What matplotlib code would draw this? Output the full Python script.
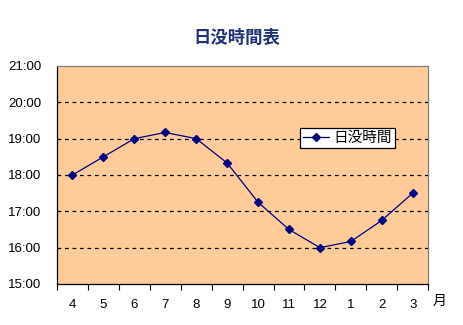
import matplotlib.pyplot as plt
import numpy as np

plt.rcParams['font.family'] = ['Liberation Sans', 'Noto Sans CJK JP', 'DejaVu Sans']

months = ['4', '5', '6', '7', '8', '9', '10', '11', '12', '1', '2', '3']
sunset = [18.0, 18.5, 19.0, 19.17, 19.0, 18.33, 17.25, 16.5, 16.0, 16.17, 16.75, 17.5]
y_ticks = [15, 16, 17, 18, 19, 20, 21]
y_labels = ['15:00', '16:00', '17:00', '18:00', '19:00', '20:00', '21:00']
series_name = '日没時間'
title = '日没時間表'

fig = plt.figure(figsize=(4.64, 3.25), dpi=100)
ax = fig.add_axes([0.1228, 0.1262, 0.8, 0.6708])
ax.set_facecolor('#FFCC99')

x = np.arange(len(months))
ax.plot(x, sunset, color='#000080', lw=0.9, marker='D', ms=4.5,
        mfc='#000080', mec='#000080', label=series_name, zorder=3)

# dashed gridlines between the bounds
for v in y_ticks[1:-1]:
    ax.axhline(v, color='black', ls=(0, (3, 3)), lw=0.9, zorder=1)

ax.set_xlim(-0.5, len(months) - 0.5)
ax.set_ylim(y_ticks[0], y_ticks[-1])
ax.set_yticks(y_ticks)
ax.set_yticklabels(y_labels, fontsize=9.5)
ax.tick_params(axis='y', length=0, pad=11)

# ticks at category boundaries, labels at centres
ax.set_xticks(np.arange(len(months) + 1) - 0.5)
ax.set_xticklabels([])
ax.tick_params(axis='x', which='major', length=4, direction='out', color='black')
ax.set_xticks(x, minor=True)
ax.set_xticklabels(months, minor=True, fontsize=9.5)
ax.tick_params(axis='x', which='minor', length=0, pad=11)

for side in ['top', 'right']:
    ax.spines[side].set_color('#808080')
for side in ['left', 'bottom']:
    ax.spines[side].set_color('black')
for s in ax.spines.values():
    s.set_linewidth(0.9)

ax.text(1.03, -0.08, '月', transform=ax.transAxes, fontsize=10,
        ha='center', va='center', family=['Noto Sans CJK JP'])

fig.text(0.511, 0.883, title, ha='center', va='center', fontsize=12.5,
         fontweight='bold', color='#1F2F7A', family=['Noto Sans CJK JP'])

leg = ax.legend(loc='upper left', bbox_to_anchor=(0.655, 0.716), fancybox=False,
                framealpha=1, edgecolor='black', prop={'family': 'Noto Sans CJK JP', 'size': 10.5},
                handlelength=1.8, borderpad=0.2, handletextpad=0.3, borderaxespad=0)
leg.get_frame().set_linewidth(0.9)

fig.savefig('out.png', dpi=100)
